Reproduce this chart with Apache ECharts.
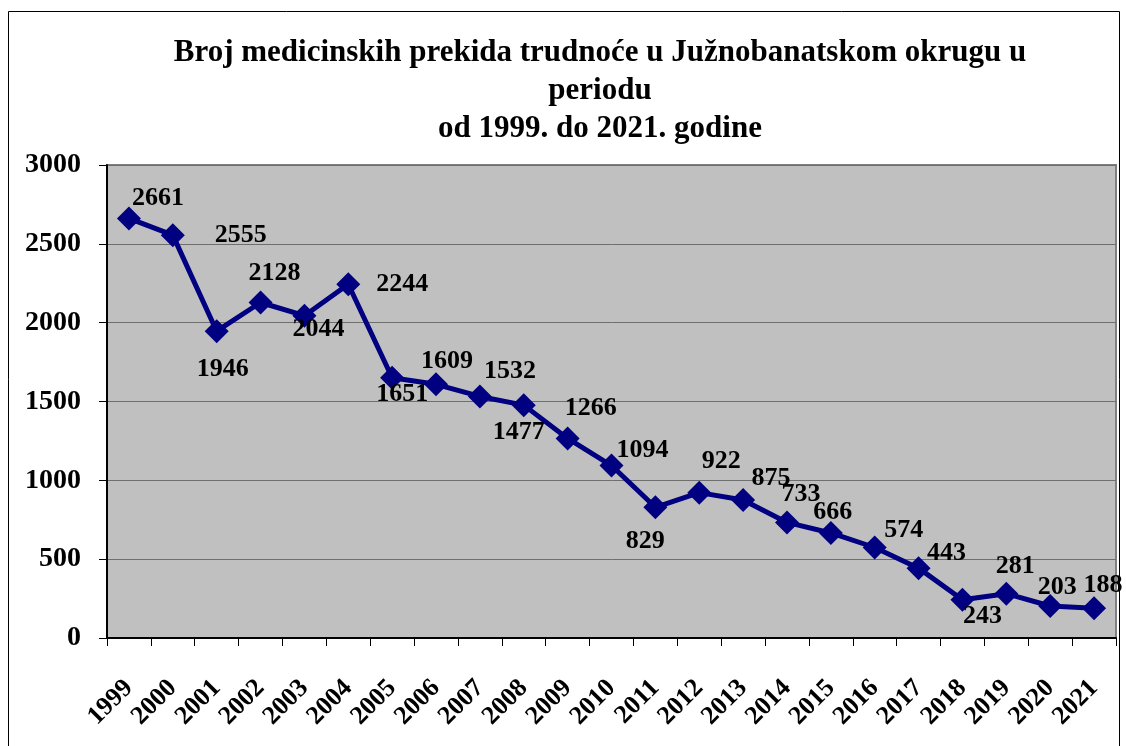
<!DOCTYPE html>
<html style="height: 100%">
<head>
    <meta charset="utf-8">
    <script src="https://cdn.jsdelivr.net/npm/echarts@6/dist/echarts.min.js"></script>
    <title>Broj medicinskih prekida trudnoće</title>
</head>
<body style="height: 100%; margin: 0">
<div id="container" style="width: 1126px; height: 746px"></div>
<script type="text/javascript">

    let years = ["1999", "2000", "2001", "2002", "2003", "2004", "2005", "2006", "2007", "2008", "2009",
        "2010", "2011", "2012", "2013", "2014", "2015", "2016", "2017", "2018", "2019", "2020", "2021"]
    let values = [2661, 2555, 1946, 2128, 2044, 2244, 1651, 1609, 1532, 1477, 1266,
        1094, 829, 922, 875, 733, 666, 574, 443, 243, 281, 203, 188]

    // where each value label sits relative to its marker
    let labelOffsets = [[29, -20], [68, 0], [6, 38], [14, -29], [14, 14], [54, 0], [10, 17], [11, -23],
        [30, -25], [-5, 27], [23, -30], [31, -15], [-10, 34], [22, -31], [28, -22], [14, -28],
        [2, -21], [29, -17], [28, -15], [20, 17], [9, -27], [7, -19], [9, -23]]

    let font = "'Liberation Serif', 'DejaVu Serif', serif"

    let seriesData = []
    for (let i in values) {
        seriesData.push({
            value: values[i],
            label: {offset: labelOffsets[i]}
        })
    }

    let dom = document.getElementById("container");
    let chart = echarts.init(dom);
    chart.setOption({
        backgroundColor: '#ffffff',
        animation: false,
        title: {
            text: 'Broj medicinskih prekida trudnoće u Južnobanatskom okrugu u\nperiodu\nod 1999. do 2021. godine',
            left: 595,
            top: 29,
            textAlign: 'center',
            textStyle: {
                fontFamily: font,
                fontWeight: 'bold',
                fontSize: 31,
                lineHeight: 38,
                color: '#000'
            }
        },
        graphic: [{
            type: 'rect',
            shape: {x: 8.5, y: 11.5, width: 1111, height: 800},
            style: {fill: 'none', stroke: '#000', lineWidth: 1},
            silent: true
        }],
        grid: {
            left: 107,
            right: 10,
            top: 165,
            bottom: 108,
            show: true,
            backgroundColor: '#c0c0c0',
            borderColor: '#808080',
            borderWidth: 2
        },
        xAxis: {
            type: 'category',
            data: years,
            boundaryGap: true,
            axisLine: {lineStyle: {color: '#000', width: 2}},
            axisTick: {show: true, length: 8, lineStyle: {color: '#000'}},
            axisLabel: {
                rotate: 45,
                interval: 0,
                margin: 46,
                fontFamily: font,
                fontWeight: 'bold',
                fontSize: 26,
                color: '#000'
            }
        },
        yAxis: {
            type: 'value',
            min: 0,
            max: 3000,
            interval: 500,
            axisLine: {show: true, lineStyle: {color: '#000', width: 2}},
            axisTick: {show: true, length: 8, lineStyle: {color: '#000'}},
            splitLine: {lineStyle: {color: '#6e6e6e', width: 1}},
            axisLabel: {
                margin: 26,
                formatter: v => String(v),
                fontFamily: font,
                fontWeight: 'bold',
                fontSize: 28,
                color: '#000'
            }
        },
        series: [{
            type: 'line',
            data: seriesData,
            symbol: 'diamond',
            symbolSize: 24,
            lineStyle: {color: '#000080', width: 5},
            itemStyle: {color: '#000080'},
            label: {
                show: true,
                position: 'inside',
                fontFamily: font,
                fontWeight: 'bold',
                fontSize: 26,
                color: '#000'
            }
        }]
    })

</script>
</body>
</html>
